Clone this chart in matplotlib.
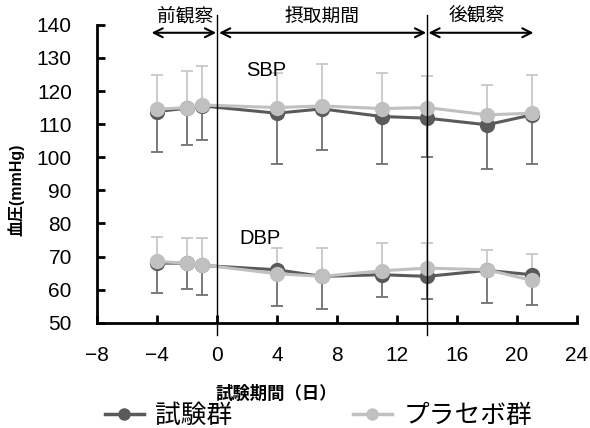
import matplotlib
matplotlib.use("Agg")
import matplotlib.pyplot as plt
from matplotlib.lines import Line2D

plt.rcParams['font.family'] = ['Liberation Sans', 'Noto Sans CJK JP']
plt.rcParams['axes.unicode_minus'] = True

days = [-4, -2, -1, 4, 7, 11, 14, 18, 21]

# SBP
sbp_test = [113.8, 114.8, 115.5, 113.3, 114.6, 112.3, 111.8, 109.8, 112.8]
sbp_test_lo = [101.7, 103.6, 105.3, 98.0, 102.2, 97.9, 100.0, 96.5, 98.0]
sbp_plac = [114.5, 115.0, 115.8, 115.0, 115.5, 114.7, 115.0, 112.8, 113.3]
sbp_plac_hi = [124.7, 126.2, 127.7, 125.5, 128.1, 125.4, 124.4, 121.9, 124.7]

# DBP
dbp_test = [68.0, 68.0, 67.3, 66.0, 64.0, 64.5, 64.0, 65.8, 64.5]
dbp_test_lo = [59.0, 60.2, 58.5, 55.0, 54.2, 57.8, 57.3, 56.0, 55.5]
dbp_plac = [68.5, 68.0, 67.5, 64.8, 64.0, 65.7, 66.5, 66.0, 62.8]
dbp_plac_hi = [76.0, 75.7, 75.7, 72.5, 72.5, 74.0, 74.0, 72.0, 70.8]

periods = ["前観察", "摂取期間", "後観察"]
period_edges = [(-4.35, -0.05), (0.15, 13.95), (14.1, 21.1)]
period_label_x = [-2.1, 7.0, 17.3]

dark = "#5a5a5a"
light = "#c0c0c0"
dark_err = "#707070"
light_err = "#c8c8c8"

fig = plt.figure(figsize=(5.9, 4.28), dpi=100)
ax = fig.add_axes([0.164, 0.246, 0.814, 0.696])

for mean, lo, col, ecol in [(sbp_test, sbp_test_lo, dark, dark_err),
                            (dbp_test, dbp_test_lo, dark, dark_err)]:
    low = [m - l for m, l in zip(mean, lo)]
    ax.errorbar(days, mean, yerr=[low, [0] * len(mean)], fmt='none',
                ecolor=ecol, elinewidth=1.3, capsize=4, capthick=1.3, zorder=2)
    ax.plot(days, mean, color=col, lw=2.2, marker='o', markersize=11,
            markeredgewidth=0, zorder=3)

for mean, hi, col, ecol in [(sbp_plac, sbp_plac_hi, light, light_err),
                            (dbp_plac, dbp_plac_hi, light, light_err)]:
    up = [h - m for m, h in zip(mean, hi)]
    ax.errorbar(days, mean, yerr=[[0] * len(mean), up], fmt='none',
                ecolor=ecol, elinewidth=1.3, capsize=4, capthick=1.3, zorder=2)
    ax.plot(days, mean, color=col, lw=2.2, marker='o', markersize=11,
            markeredgewidth=0, zorder=4)

# period separators
for xv in [0, 14]:
    ax.plot([xv, xv], [46.3, 143.0], color='black', lw=1, clip_on=False, zorder=5)

# period arrows and labels
for name, (x0, x1), lx in zip(periods, period_edges, period_label_x):
    ax.annotate("", xy=(x0, 137.6), xytext=(x1, 137.6),
                arrowprops=dict(arrowstyle='<->', lw=1.5, color='black',
                                mutation_scale=16, shrinkA=0, shrinkB=0),
                annotation_clip=False)
    ax.text(lx, 139.8, name, ha='center', va='bottom', fontsize=13.5, clip_on=False)

ax.text(3.3, 126.3, "SBP", ha='center', va='center', fontsize=14.5, zorder=6)
ax.text(2.9, 75.4, "DBP", ha='center', va='center', fontsize=14.5, zorder=6)

ax.set_xlim(-8, 24)
ax.set_ylim(50, 140)
ax.set_xticks(range(-8, 25, 4))
ax.set_yticks(range(50, 141, 10))
for s in ['top', 'right']:
    ax.spines[s].set_visible(False)
for s in ['left', 'bottom']:
    ax.spines[s].set_linewidth(2)
ax.tick_params(axis='y', direction='in', length=6, width=2, pad=18, labelsize=15)
ax.tick_params(axis='x', direction='in', length=6, width=2, pad=17, labelsize=15)

fig.text(0.468, 0.080, "試験期間（日）", ha='center', va='center',
         fontsize=12.5, fontweight='bold')
fig.text(0.027, 0.556, "血圧(mmHg)", ha='center', va='center', rotation=90,
         fontsize=11.5, fontweight='bold')

handles = [Line2D([], [], color=dark, lw=2.5, marker='o', markersize=9, markeredgewidth=0),
           Line2D([], [], color=light, lw=2.5, marker='o', markersize=9, markeredgewidth=0)]
fig.legend(handles, ["試験群", "プラセボ群"], loc='center left', bbox_to_anchor=(0.178, 0.027),
           ncol=2, frameon=False, fontsize=18.5, handlelength=1.5, handletextpad=0.45,
           columnspacing=4.7, borderpad=0, borderaxespad=0)

fig.savefig("out.png", dpi=100)
plt.close()
